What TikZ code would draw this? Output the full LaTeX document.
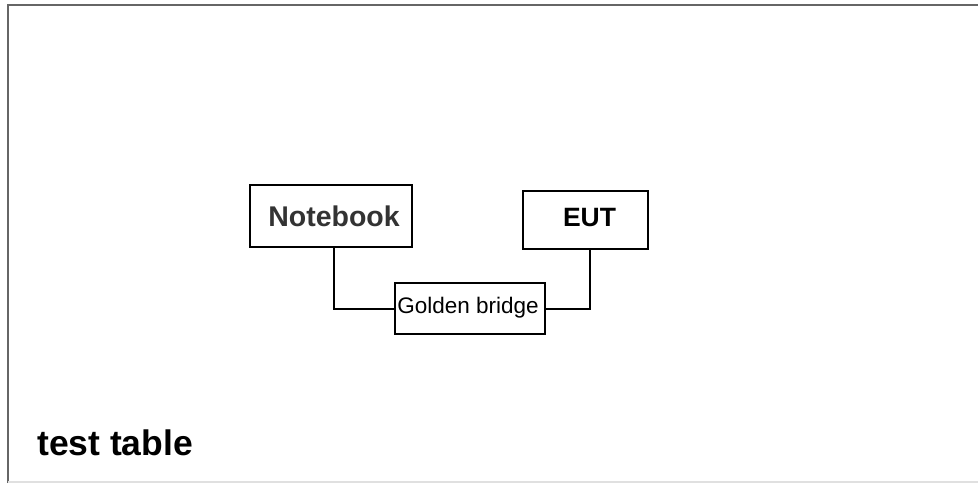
\documentclass[tikz,border=0pt]{standalone}
\usepackage{fontspec}
\setmainfont{Liberation Sans}
\begin{document}
\begin{tikzpicture}[x=1pt,y=-1pt,
  box/.style={draw=black,line width=2pt,fill=white,inner sep=0pt,anchor=north west},
  wire/.style={draw=black,line width=2pt}]
\useasboundingbox (0,0) rectangle (978,483);
\fill[white] (0,0) rectangle (978,483);
\draw[line width=2.5pt,draw=black!60] (8,483) -- (8,5) -- (978,5);
\draw[line width=1.5pt,draw=black!12] (8,482) -- (978,482);
\node[box,minimum width=162pt,minimum height=62pt] (nb) at (249,184) {};
\node[text=black!80,font=\bfseries\fontsize{28.5}{32}\selectfont] at ([xshift=3pt]nb.center) {Notebook};
\node[box,minimum width=125pt,minimum height=58pt] (eut) at (522,190) {};
\node[font=\bfseries\fontsize{26.5}{30}\selectfont] at ([xshift=4pt,yshift=2pt]eut.center) {EUT};
\node[box,minimum width=150pt,minimum height=51pt] (gb) at (394,282) {};
\node[font=\fontsize{22.5}{26}\selectfont] at ([xshift=-2pt,yshift=1pt]gb.center) {Golden bridge};
\coordinate (c1) at (334,309);
\coordinate (c2) at (590,309);
\draw[wire] (nb.south -| c1) -- (c1) -- (c1 -| gb.west);
\draw[wire] (eut.south -| c2) -- (c2) -- (c2 -| gb.east);
\node[anchor=base west,inner sep=0pt,font=\bfseries\fontsize{35.5}{38}\selectfont] (tt) at (37,455) {test table};
\end{tikzpicture}
\end{document}
